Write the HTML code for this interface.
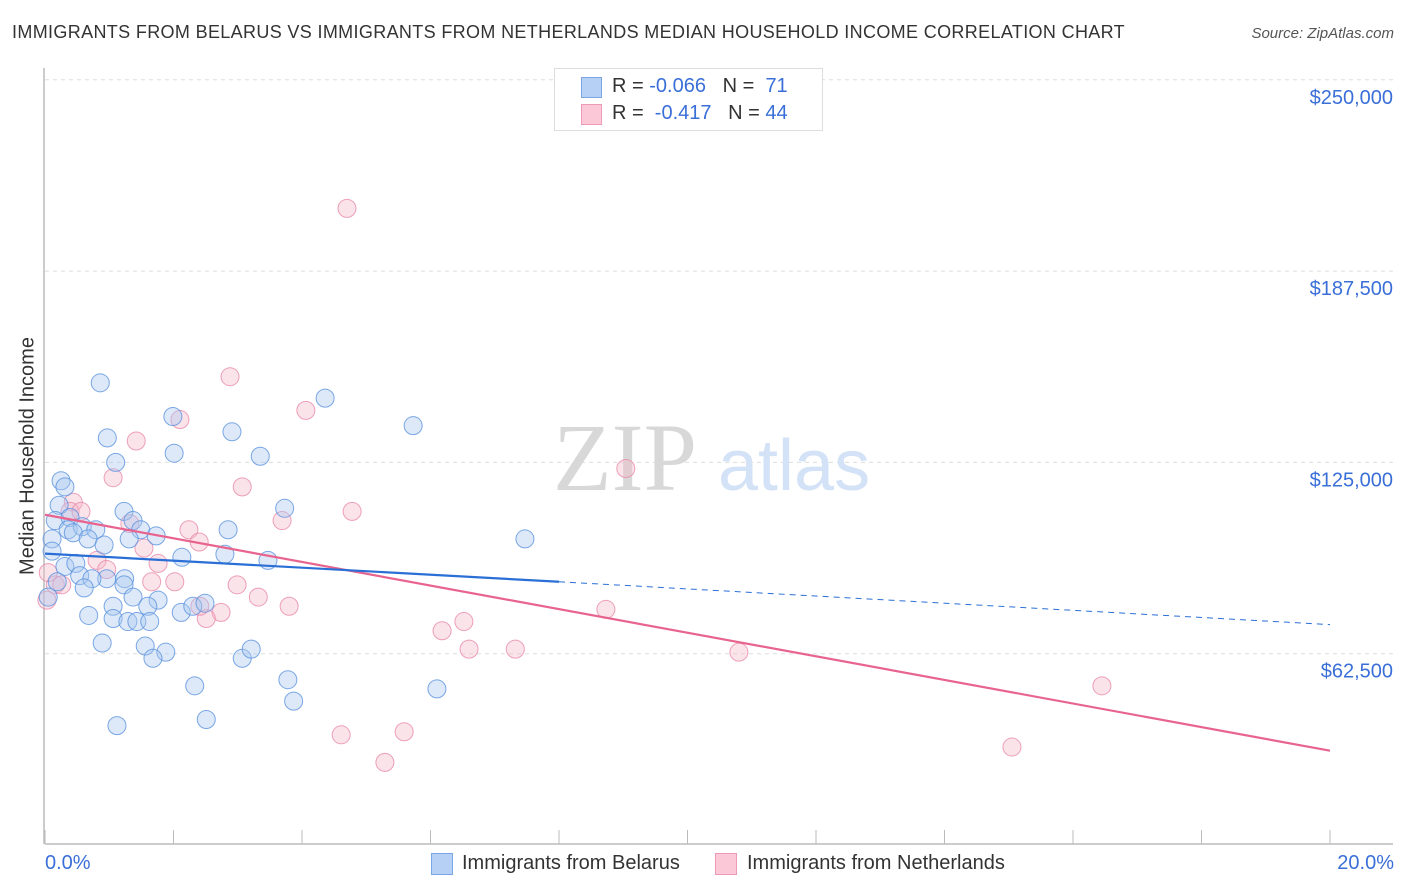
<!DOCTYPE html>
<html><head><meta charset="utf-8"><style>
body{margin:0;background:#fff;font-family:"Liberation Sans",sans-serif;}
#wrap{position:relative;width:1406px;height:892px;overflow:hidden;}
.t{position:absolute;white-space:nowrap;}
</style></head><body>
<div id="wrap">
<div class="t" style="left:12px;top:22px;font-size:18px;color:#333;letter-spacing:0.35px;">IMMIGRANTS FROM BELARUS VS IMMIGRANTS FROM NETHERLANDS MEDIAN HOUSEHOLD INCOME CORRELATION CHART</div>
<div class="t" style="right:12px;top:25px;font-size:15px;color:#555;font-style:italic;">Source: ZipAtlas.com</div>
<svg id="svg" width="1406" height="892" style="position:absolute;left:0;top:0"></svg>
</div>
<script>
const yTicks=[62500,125000,187500,250000];
const yTickLabels=["$62,500","$125,000","$187,500","$250,000"];
const belarusX=[0.86,1.99,0.97,2.91,2.01,1.10,3.35,4.36,5.73,0.25,0.31,0.22,1.23,3.73,0.16,0.39,0.36,0.58,0.79,1.37,1.49,0.44,0.67,0.92,1.73,1.31,2.85,2.13,2.80,3.47,7.47,0.11,0.11,0.31,0.48,0.54,0.96,1.24,1.23,0.73,0.61,0.19,0.05,1.37,1.76,1.60,1.06,2.12,2.30,2.49,0.68,1.06,1.29,1.43,1.63,0.89,1.56,1.88,1.68,3.07,3.21,2.33,3.78,3.87,6.10,1.12,2.51];
const belarusY=[151000,140000,133000,135000,128000,125000,127000,146000,137000,119000,117000,111000,109000,110000,106000,107000,103000,104000,103000,106000,103000,102000,100000,98000,101000,100000,103000,94000,95000,93000,100000,100000,96000,91000,92000,88000,87000,87000,85000,87000,84000,86000,81000,81000,80000,78000,78000,76000,78000,79000,75000,74000,73000,73000,73000,66000,65000,63000,61000,61000,64000,52000,54000,47000,51000,39000,41000];
const nethX=[4.70,2.88,2.10,1.42,4.06,9.04,1.06,3.07,0.44,0.39,0.56,1.32,4.78,3.69,2.24,2.40,1.54,0.81,0.96,1.76,1.66,2.02,2.99,3.32,3.80,2.74,2.51,2.41,8.73,6.52,6.18,6.60,7.32,10.80,16.45,4.61,5.59,5.29,15.05,0.16,0.05,0.26,0.03];
const nethY=[208000,153000,139000,132000,142000,123000,120000,117000,112000,109000,109000,105000,109000,106000,103000,99000,97000,93000,90000,92000,86000,86000,85000,81000,78000,76000,74000,78000,77000,73000,70000,64000,64000,63000,52000,36000,37000,27000,32000,85000,89000,85000,80000];
const belarusTrend=[[0,95200],[8,86000]], belarusDash=[[8,86000],[20,72000]];
const nethTrend=[[0,107900],[20,30800]];
const X0=45,X1=1330,YB=845,PX=191.3/62500;
const xs=v=>X0+v/20*(X1-X0), ys=v=>YB-v*PX;
const svg=document.getElementById('svg');const NS='http://www.w3.org/2000/svg';
function mk(tag,a,p){const e=document.createElementNS(NS,tag);for(const k in a)e.setAttribute(k,a[k]);(p||svg).appendChild(e);return e;}
const g1=mk('g',{});


yTicks.forEach((t,i)=>{const y=ys(t);
 const l=mk('line',{x1:45,x2:1393,y1:y,y2:y,stroke:'#ddd','stroke-dasharray':'4,4'},g1);
 
 
 const tx=mk('text',{x:1393,y:y+24,'text-anchor':'end','font-size':20,fill:'#3a6fd8','font-family':'Liberation Sans'});
 tx.textContent=yTickLabels[i];
 
 
});
const ax=mk('line',{x1:45,x2:1393,y1:844,y2:844,stroke:'#bbb','stroke-width':1.5});


const ay=mk('line',{x1:44,x2:44,y1:68,y2:844,stroke:'#bbb','stroke-width':1.5});


for(let i=0;i<=10;i++){const x=xs(i*2);const tk=mk('line',{x1:x,x2:x,y1:830,y2:844,stroke:'#bbb'});
 
 }
const wm=mk('text',{x:553,y:490,'font-size':96,fill:'#d8d8d8','font-family':'Liberation Serif'});wm.textContent='ZIP';


const wm2=mk('text',{x:718,y:490,'font-size':72,fill:'#d3e2f6','font-family':'Liberation Sans'});wm2.textContent='atlas';


function pts(X,Y,fill,stroke,name){const g=mk('g',{});
 
 
 X.forEach((x,i)=>{const c=mk('circle',{cx:xs(x),cy:ys(Y[i]),r:9,fill:fill,stroke:stroke,'stroke-width':1,'fill-opacity':0.4,'stroke-opacity':0.8},g);
 
 });}
pts(nethX,nethY,'#f6b8cb','#e88aaa','netherlands-points');
pts(belarusX,belarusY,'#a9c8f0','#5b92de','belarus-points');
function ln(p,col,w,dash,name){const l=mk('line',{x1:xs(p[0][0]),y1:ys(p[0][1]),x2:xs(p[1][0]),y2:ys(p[1][1]),stroke:col,'stroke-width':w});if(dash)l.setAttribute('stroke-dasharray',dash);
 
 }
ln(nethTrend,'#e8648f',2.2,null,'netherlands-trend-line');
ln(belarusTrend,'#2a6fd6',2.2,null,'belarus-trend-line');
ln(belarusDash,'#2a6fd6',1,'6,5','belarus-trend-dashed');
</script>
<div style="position:absolute;left:554px;top:68px;width:267px;height:61px;border:1px solid #ddd;background:#fff;font-size:20px;color:#333;">
 <div style="position:absolute;left:26px;top:8px;width:19px;height:19px;background:#b6d0f5;border:1px solid #7aa6e6;"></div>
 <div class="t" style="left:57px;top:6px;">R = <span style="color:#3a6fd8">-0.066</span>&nbsp;&nbsp;&nbsp;N = &nbsp;<span style="color:#3a6fd8">71</span></div>
 <div style="position:absolute;left:26px;top:35px;width:19px;height:19px;background:#fbc8d8;border:1px solid #ec9ab5;"></div>
 <div class="t" style="left:57px;top:33px;">R = &nbsp;<span style="color:#3a6fd8">-0.417</span>&nbsp;&nbsp;&nbsp;N = <span style="color:#3a6fd8">44</span></div>
</div>
<div class="t" style="left:28px;top:456px;font-size:20px;color:#333;transform:translate(-50%,-50%) rotate(-90deg);">Median Household Income</div>
<div class="t" style="left:45px;top:852px;font-size:20px;color:#3a6fd8;">0.0%</div>
<div class="t" style="right:12px;top:852px;font-size:20px;color:#3a6fd8;">20.0%</div>
<div style="position:absolute;left:431px;top:853px;width:20px;height:20px;background:#b6d0f5;border:1px solid #7aa6e6;"></div>
<div class="t" style="left:462px;top:852px;font-size:20px;color:#333;">Immigrants from Belarus</div>
<div style="position:absolute;left:715px;top:853px;width:20px;height:20px;background:#fbc8d8;border:1px solid #ec9ab5;"></div>
<div class="t" style="left:747px;top:852px;font-size:20px;color:#333;">Immigrants from Netherlands</div>
</body></html>
